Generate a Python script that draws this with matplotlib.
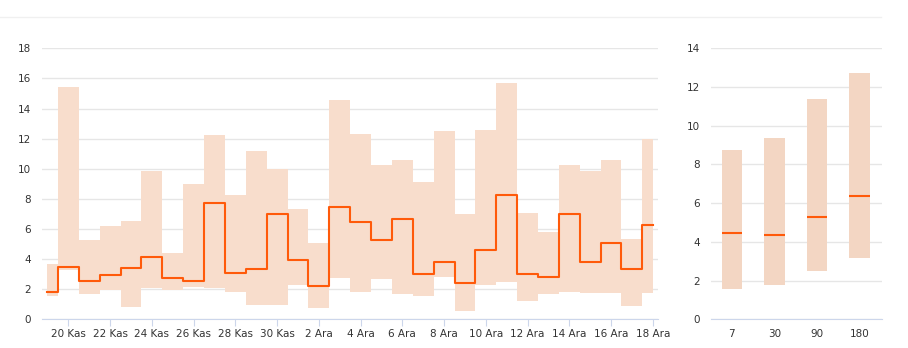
import matplotlib.pyplot as plt
import numpy as np
from matplotlib.lines import Line2D

# daily data, 19 Kas .. 18 Ara
days = ["19 Kas", "20 Kas", "21 Kas", "22 Kas", "23 Kas", "24 Kas", "25 Kas", "26 Kas",
        "27 Kas", "28 Kas", "29 Kas", "30 Kas", "1 Ara", "2 Ara", "3 Ara", "4 Ara",
        "5 Ara", "6 Ara", "7 Ara", "8 Ara", "9 Ara", "10 Ara", "11 Ara", "12 Ara",
        "13 Ara", "14 Ara", "15 Ara", "16 Ara", "17 Ara", "18 Ara"]
high = [3.65, 15.45, 5.25, 6.2, 6.55, 9.83, 4.43, 8.99, 12.22, 8.26, 11.18, 9.98, 7.35, 5.07, 14.55,
        12.33, 10.23, 10.58, 9.12, 12.49, 7.02, 12.6, 15.7, 7.06, 5.82, 10.27, 9.85, 10.58, 5.36, 12.0]
low = [1.57, 3.28, 1.70, 1.97, 0.82, 2.1, 1.97, 2.13, 2.1, 1.84, 0.93, 0.95, 2.26, 0.75, 2.72,
       1.79, 2.66, 1.70, 1.53, 2.81, 0.58, 2.26, 2.46, 1.24, 1.68, 1.82, 1.73, 1.77, 0.86, 1.73]
mid = [1.79, 3.45, 2.57, 2.94, 3.39, 4.14, 2.77, 2.57, 7.75, 3.1, 3.34, 6.97, 3.96, 2.19, 7.48,
       6.49, 5.29, 6.66, 3.03, 3.79, 2.39, 4.58, 8.24, 3.03, 2.79, 7.0, 3.79, 5.09, 3.34, 6.24]

# summary by period
periods = ["7", "30", "90", "180"]
p_high = [8.75, 9.37, 11.38, 12.71]
p_low = [1.57, 1.79, 2.48, 3.17]
p_mid = [4.48, 4.36, 5.30, 6.35]

band_color = "#f8ddcc"
bar_color = "#f3d6c3"
line_color = "#ff5a0a"
grid_color = "#e6e6e6"
axis_color = "#ccd6eb"
text_color = "#333333"

fig = plt.figure(figsize=(9.08, 3.48), dpi=100)
fig.add_artist(Line2D([0, 0.97], [0.951, 0.951], color="#f0f0f0", lw=1))


def style(ax):
    for s in ["top", "right", "left"]:
        ax.spines[s].set_visible(False)
    ax.spines["bottom"].set_color(axis_color)
    ax.grid(axis="y", color=grid_color, lw=1)
    ax.set_axisbelow(True)
    ax.tick_params(axis="y", length=0, labelsize=7.5, labelcolor=text_color, pad=8)
    ax.tick_params(axis="x", length=5, color=axis_color, labelsize=7.5, labelcolor=text_color, pad=2)


# left chart
ax = fig.add_axes([0.0463, 0.0825, 0.6784, 0.7787])
x = np.arange(len(days))
ax.fill_between(x, low, high, step="mid", color=band_color, lw=0)
ax.step(x, mid, where="mid", color=line_color, lw=1.5)
ax.set_xlim(-0.26, len(days) - 0.75)
ax.set_ylim(0, 18)
ax.set_yticks(range(0, 19, 2))
ax.set_xticks(x[1::2])
ax.set_xticklabels(days[1::2])
style(ax)

# right chart
ax2 = fig.add_axes([0.783, 0.0825, 0.188, 0.7787])
xp = np.arange(len(periods))
ax2.bar(xp, np.array(p_high) - np.array(p_low), bottom=p_low, width=0.48, color=bar_color)
ax2.hlines(p_mid, xp - 0.24, xp + 0.24, color=line_color, lw=1.5)
ax2.set_xlim(-0.49, 3.52)
ax2.set_ylim(0, 14)
ax2.set_yticks(range(0, 15, 2))
ax2.set_xticks(xp)
ax2.set_xticklabels(periods)
style(ax2)
ax2.tick_params(axis="x", length=0, pad=7)

fig.savefig("out.png", dpi=100)
